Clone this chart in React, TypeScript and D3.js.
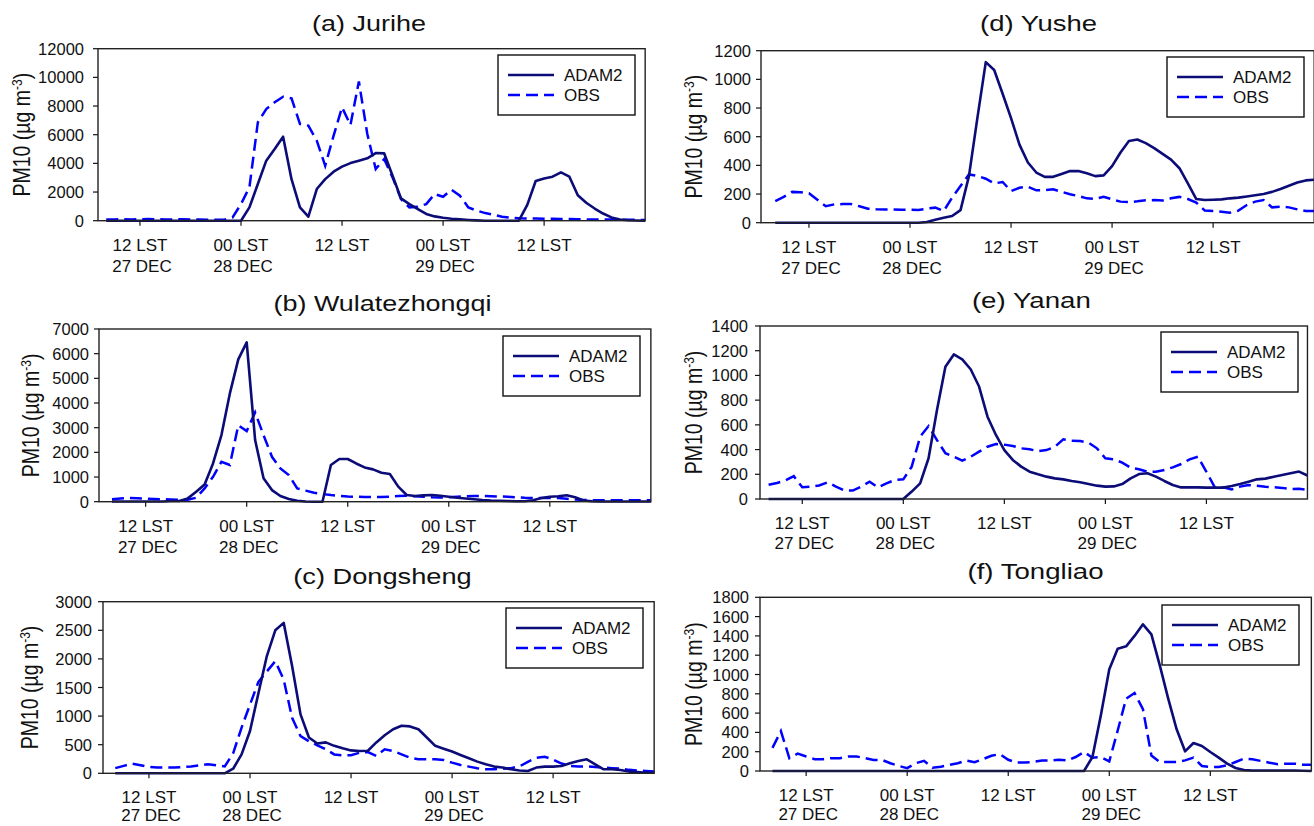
import React from "react";
import * as d3 from "d3";

// hours since 00 LST 27 DEC, hourly from 08 LST 27 DEC to 00 LST 30 DEC
const HOURS = d3.range(8, 73);

const TICK_HOURS = [12, 24, 36, 48, 60];
const TICK_LST = ["12 LST", "00 LST", "12 LST", "00 LST", "12 LST"];
const TICK_DATES = ["27 DEC", "28 DEC", "", "29 DEC", ""];

const JURIHE_ADAM2 = [
  0, 0, 0, 0, 0, 0, 0, 0, 0, 0, 0, 0, 0, 0, 0, 0, 0,
  930, 2560, 4190, 5000, 5860, 2900, 930, 280, 2210, 2900,
  3420, 3770, 4020, 4190, 4350, 4720, 4700, 3140, 1560, 1160,
  810, 470, 300, 210, 140, 90, 50, 20, 0, 0,
  0, 0, 0, 1100, 2770, 2950, 3070, 3370, 3070, 1770,
  1250, 850, 500, 230, 80, 30, 10, 0,
];
const JURIHE_OBS = [
  80, 90, 100, 90, 100, 110, 100, 90, 90, 100, 80, 80, 70, 60,
  70, 230, 1160, 2330, 6860, 7790, 8260, 8650, 8540, 6750,
  6630, 5580, 3840, 5930, 7910, 6680, 9720, 6050, 3600, 4300,
  3020, 1510, 930, 980, 1160, 1860, 1670, 2160, 1740, 930,
  700, 530, 420, 280, 200, 170, 160, 150, 140, 130,
  120, 110, 100, 90, 90, 80, 80, 70, 60, 60, 50,
];

const WULATE_ADAM2 = [
  10, 10, 10, 10, 10, 10, 10, 30,
  30, 135, 400, 700, 1550, 2700, 4390, 5770, 6460, 2500,
  950, 470, 230, 110, 40, 10, 0, 0, 1490, 1730,
  1730, 1550, 1390, 1310, 1175, 1120, 610, 270, 230, 255,
  270, 240, 200, 160, 130, 100, 70, 50, 40, 30,
  20, 20, 60, 150, 200, 220, 260, 180, 50, 20,
  10, 10, 10, 10, 10, 10, 10,
];
const WULATE_OBS = [
  100, 130, 150, 140, 120, 110, 100, 90, 80, 80,
  160, 540, 1010, 1620, 1490, 3100, 2860, 3620, 2700, 1820,
  1350, 1080, 540, 450, 365, 310, 270, 240, 210, 200,
  190, 190, 190, 200, 230, 240, 220, 200, 180, 170,
  180, 200, 220, 230, 230, 220, 210, 200, 180, 160,
  150, 150, 150, 150, 120, 90, 70, 60, 60, 60,
  60, 60, 60, 60, 60,
];

const DONGSHENG_ADAM2 = [
  0, 0, 0, 0, 0, 0, 0, 0, 0, 0, 0, 0, 0, 0,
  80, 330, 740, 1400, 2050, 2500, 2630, 1875, 1030, 626,
  520, 540, 480, 437, 400, 390, 395, 540, 664, 770,
  830, 820, 770, 626, 480, 430, 380, 320, 262, 204,
  157, 117, 100, 70, 50, 40, 100, 117, 117, 128,
  175, 215, 245, 157, 70, 70, 58, 30, 20, 10, 10,
];
const DONGSHENG_OBS = [
  90, 130, 170, 140, 110, 100, 100, 100, 110, 120, 140, 160, 140, 120,
  350, 800, 1200, 1600, 1780, 1960, 1640, 970, 650, 560,
  490, 420, 330, 315, 315, 360, 370, 303, 420, 390,
  332, 274, 245, 245, 245, 233, 186, 146, 117, 87,
  70, 70, 80, 90, 120, 200, 270, 290, 240, 170,
  130, 120, 120, 110, 100, 90, 80, 60, 50, 40, 30,
];

const YUSHE_ADAM2 = [
  0, 0, 0, 0, 0, 0, 0, 0, 0, 0, 0, 0, 0, 0, 0, 0, 0, 0,
  5, 20, 35, 47, 88, 325, 730, 1120, 1065, 900,
  730, 545, 420, 350, 320, 320, 340, 360, 360, 345,
  325, 330, 395, 490, 570, 580, 555, 520, 480, 440,
  380, 275, 165, 158, 160, 163, 170, 175, 183, 192,
  200, 215, 235, 258, 280, 295, 300,
];
const YUSHE_OBS = [
  150, 180, 215, 212, 205, 160, 115, 128, 130, 130,
  115, 98, 93, 92, 92, 90, 90, 88, 98, 105,
  81, 175, 256, 337, 326, 307, 274, 284, 221, 244,
  251, 226, 228, 233, 216, 198, 186, 170, 167, 181,
  163, 147, 144, 149, 156, 158, 155, 170, 180, 165,
  140, 85, 81, 77, 70, 84, 123, 147, 158, 107,
  112, 107, 93, 81, 81,
];

const YANAN_ADAM2 = [
  0, 0, 0, 0, 0, 0, 0, 0, 0, 0, 0, 0, 0, 0, 0, 0, 0,
  60, 127, 330, 720, 1070, 1170, 1130, 1050, 910, 666,
  518, 396, 316, 262, 221, 200, 181, 167, 159, 146,
  135, 121, 108, 100, 102, 121, 167, 202, 208, 181,
  146, 113, 94, 94, 94, 92, 92, 92, 105, 121,
  140, 159, 165, 180, 195, 208, 222, 190,
];
const YANAN_OBS = [
  115, 130, 150, 185, 95, 100, 110, 135, 100, 70,
  68, 100, 140, 94, 127, 154, 159, 262, 504, 590,
  477, 370, 342, 310, 342, 383, 423, 445, 440, 429,
  410, 402, 388, 396, 423, 483, 472, 469, 456, 410,
  329, 321, 294, 253, 240, 221, 221, 235, 256, 283,
  321, 342, 220, 94, 94, 78, 100, 113, 108, 100,
  95, 90, 80, 82, 75,
];

const TONGLIAO_ADAM2 = [
  0, 0, 0, 0, 0, 0, 0, 0, 0, 0, 0, 0, 0, 0, 0, 0, 0, 0, 0,
  0, 0, 0, 0, 0, 0, 0, 0, 0, 0, 0, 0, 0, 0, 0, 0, 0, 0, 0,
  145, 577, 1054, 1268, 1292, 1400, 1520, 1416, 1095, 750,
  432, 204, 290, 259, 197, 138, 76, 31, 10, 5,
  5, 5, 5, 5, 5, 3, 0,
];
const TONGLIAO_OBS = [
  240, 414, 133, 180, 150, 123, 123, 133, 133, 150,
  150, 133, 115, 115, 80, 52, 30, 80, 105, 35,
  45, 63, 80, 109, 91, 123, 158, 175, 116, 88,
  88, 95, 109, 109, 116, 109, 145, 197, 138, 145,
  100, 420, 750, 808, 640, 160, 93, 93, 93, 110,
  138, 52, 41, 41, 59, 93, 128, 121, 104, 86,
  69, 76, 76, 66, 66,
];

const PPH = 8.42;
const FONT = "'Liberation Sans', Arial, Helvetica, sans-serif";
const ADAM_COLOR = "#0c0c78";
const OBS_COLOR = "#0000ff";

const PANELS = [
  { title: "(a) Jurihe", adam: JURIHE_ADAM2, obs: JURIHE_OBS, yMax: 12000, yStep: 2000,
    left: 98, h24: 241, top: 48.7, bottom: 220.7, titleX: 369, titleY: 31, titleW: 114,
    ylabX: 30, yTickGap: 14, legX: 498, legY: 55, dateDy: 51 },
  { title: "(b) Wulatezhongqi", adam: WULATE_ADAM2, obs: WULATE_OBS, yMax: 7000, yStep: 1000,
    left: 99, h24: 246.7, top: 329, bottom: 501.7, titleX: 382.5, titleY: 311, titleW: 218,
    ylabX: 39, yTickGap: 10, legX: 503, legY: 336, dateDy: 51 },
  { title: "(c) Dongsheng", adam: DONGSHENG_ADAM2, obs: DONGSHENG_OBS, yMax: 3000, yStep: 500,
    left: 103, h24: 250, top: 601.7, bottom: 773.3, titleX: 382.5, titleY: 584, titleW: 178.5,
    ylabX: 38, yTickGap: 11, legX: 506, legY: 608, dateDy: 48 },
  { title: "(d) Yushe", adam: YUSHE_ADAM2, obs: YUSHE_OBS, yMax: 1200, yStep: 200,
    left: 761, h24: 910, top: 50.7, bottom: 222.7, titleX: 1038.5, titleY: 31, titleW: 117,
    ylabX: 702, yTickGap: 10, legX: 1167, legY: 57, dateDy: 51 },
  { title: "(e) Yanan", adam: YANAN_ADAM2, obs: YANAN_OBS, yMax: 1400, yStep: 200,
    left: 760, h24: 903.3, top: 326, bottom: 499, titleX: 1031.4, titleY: 308, titleW: 119,
    ylabX: 702, yTickGap: 12, legX: 1161, legY: 332, dateDy: 50 },
  { title: "(f) Tongliao", adam: TONGLIAO_ADAM2, obs: TONGLIAO_OBS, yMax: 1800, yStep: 200,
    left: 760, h24: 907.2, top: 597.3, bottom: 771, titleX: 1035.5, titleY: 579, titleW: 136,
    ylabX: 702, yTickGap: 11, legX: 1162, legY: 605, dateDy: 49 },
];

function Panel({ p }: { p: any }) {
  const right = p.h24 + 48 * PPH;
  const x = d3.scaleLinear().domain([24, 72]).range([p.h24, right]);
  const y = d3.scaleLinear().domain([0, p.yMax]).range([p.bottom, p.top]);
  const line = d3
    .line<number>()
    .x((_d, i) => x(HOURS[i]))
    .y((d) => y(d));
  const yTicks = d3.range(0, p.yMax + 1, p.yStep);
  const midY = (p.top + p.bottom) / 2;
  return (
    <g fontFamily={FONT}>
      <text
        x={p.titleX - p.titleW / 2}
        y={p.titleY}
        fontSize={22}
        fill="#111"
        textLength={p.titleW}
        lengthAdjust="spacingAndGlyphs"
      >
        {p.title}
      </text>
      <text
        transform={`translate(${p.ylabX},${midY}) rotate(-90) scale(1,1.2)`}
        textAnchor="middle"
        fontSize={19.5}
        fill="#111"
      >
        PM10 (µg m
        <tspan dy={-7} fontSize={12}>-3</tspan>
        <tspan dy={7}>)</tspan>
      </text>
      {yTicks.map((t) => (
        <g key={t}>
          <line x1={p.left - 5} x2={p.left} y1={y(t)} y2={y(t)} stroke="#111" strokeWidth={1.2} />
          <text x={p.left - p.yTickGap} y={y(t) + 6} textAnchor="end" fontSize={16.5} fill="#111">
            {t}
          </text>
        </g>
      ))}
      {TICK_HOURS.map((h, i) => (
        <g key={h}>
          <line x1={x(h)} x2={x(h)} y1={p.bottom} y2={p.bottom + 5} stroke="#111" strokeWidth={1.2} />
          <text x={x(h)} y={p.bottom + 30} textAnchor="middle" fontSize={17} fill="#111">
            {TICK_LST[i]}
          </text>
          {TICK_DATES[i] && (
            <text x={x(h) + 2} y={p.bottom + p.dateDy} textAnchor="middle" fontSize={17} fill="#111">
              {TICK_DATES[i]}
            </text>
          )}
        </g>
      ))}
      <path d={line(p.obs) || ""} fill="none" stroke={OBS_COLOR} strokeWidth={2.5} strokeDasharray="12 6" />
      <path d={line(p.adam) || ""} fill="none" stroke={ADAM_COLOR} strokeWidth={2.6} strokeLinejoin="round" />
      <rect x={p.left} y={p.top} width={right - p.left} height={p.bottom - p.top} fill="none" stroke="#222" strokeWidth={1.4} />
      <g transform={`translate(${p.legX},${p.legY})`}>
        <rect x={0} y={0} width={137} height={60} fill="#fff" stroke="#111" strokeWidth={1.4} />
        <line x1={10} x2={56} y1={20} y2={20} stroke={ADAM_COLOR} strokeWidth={2.6} />
        <text x={66} y={26} fontSize={17} fill="#111">ADAM2</text>
        <line x1={10} x2={56} y1={40} y2={40} stroke={OBS_COLOR} strokeWidth={2.5} strokeDasharray="12 6" />
        <text x={66} y={46} fontSize={17} fill="#111">OBS</text>
      </g>
    </g>
  );
}

export default function App() {
  return (
    <svg
      width={1314}
      height={826}
      style={{ position: "absolute", left: 0, top: 0, background: "#fff" }}
    >
      <rect width={1314} height={826} fill="#fff" />
      {PANELS.map((p) => (
        <Panel key={p.title} p={p} />
      ))}
    </svg>
  );
}
